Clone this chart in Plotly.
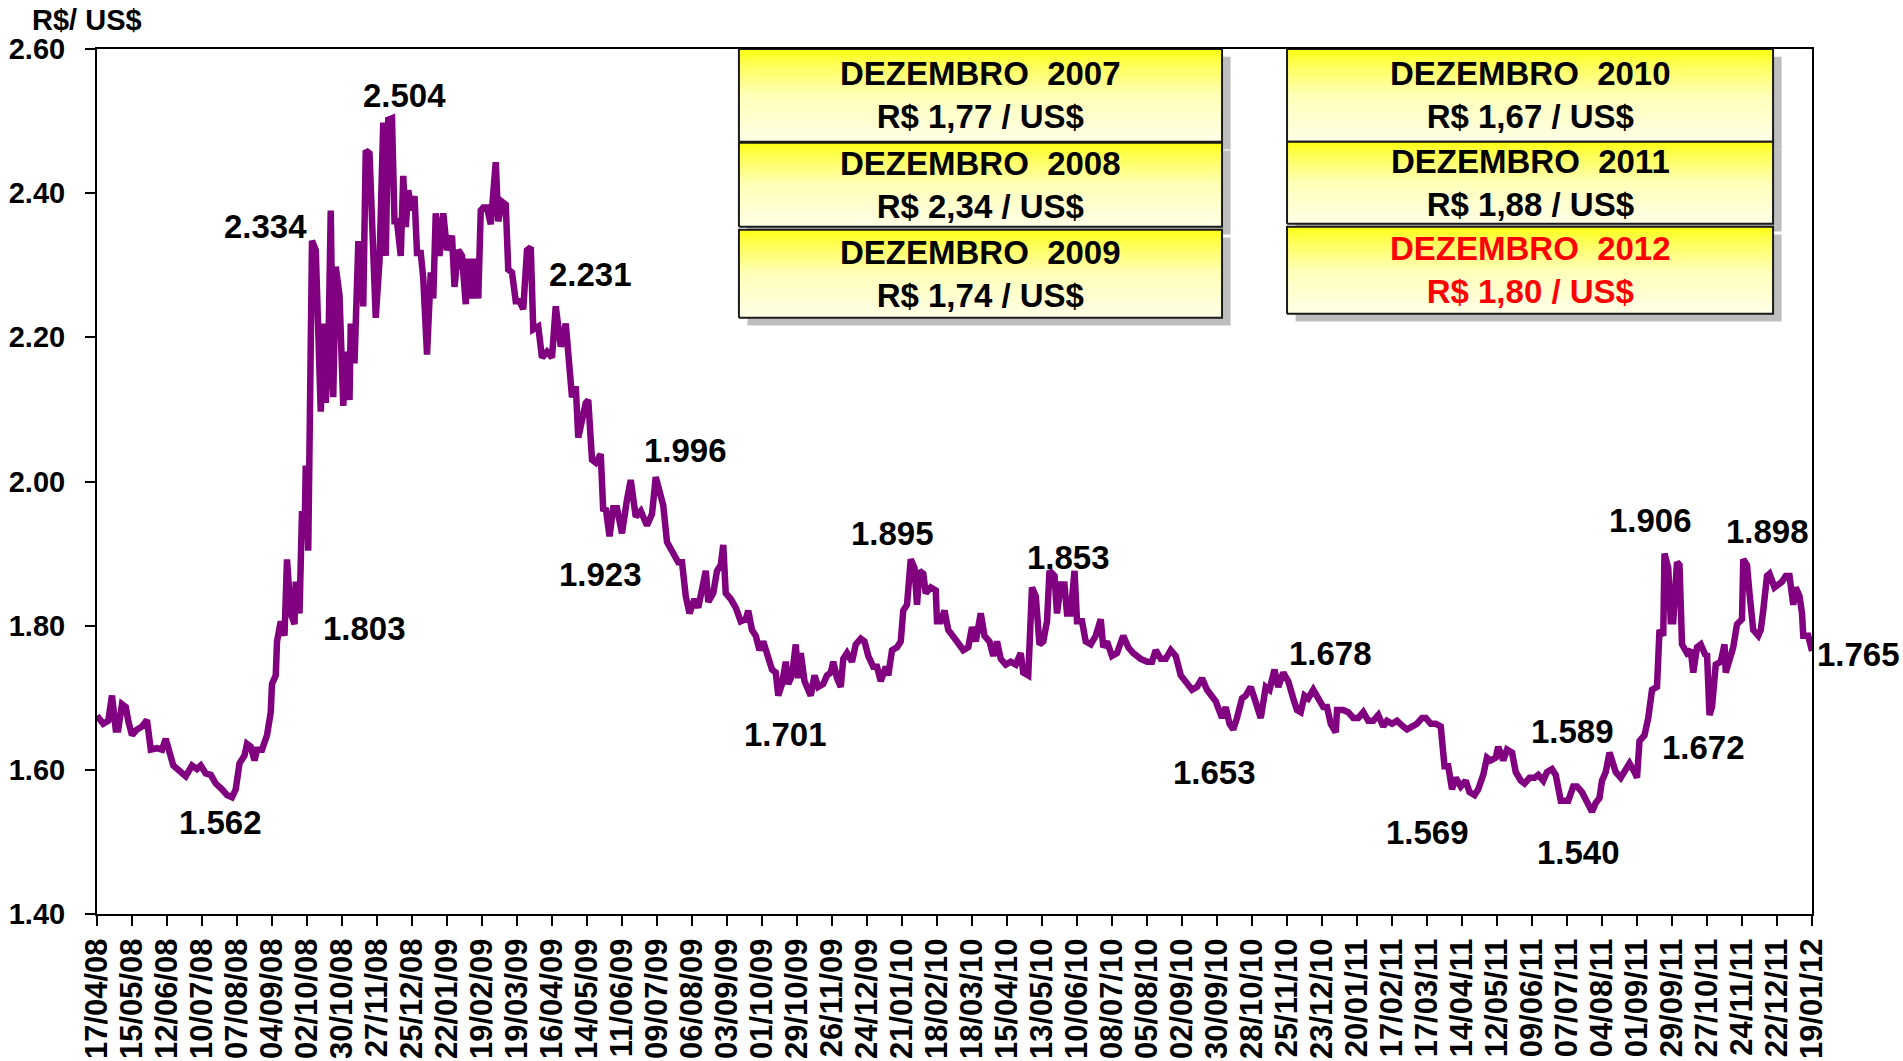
import pandas as pd
import plotly.graph_objects as go

# cotação diária R$/US$ (dias contados a partir de 17/04/08)
dias = [0, 5, 9, 12, 15, 17, 20, 23, 25, 28, 32, 36, 40, 43, 48, 52, 55, 58, 61, 67,
        71, 76, 80, 83, 87, 91, 95, 100, 104, 108, 111, 114, 118, 120, 123, 126, 128, 132, 136, 139,
        140, 143, 144, 147, 150, 152, 155, 158, 159, 162, 164, 166, 167, 169, 171, 172, 175, 177, 179, 182,
        183, 185, 187, 189, 191, 194, 197, 199, 202, 203, 206, 209, 211, 213, 215, 218, 221, 223, 226, 229,
        231, 233, 236, 238, 240, 243, 245, 247, 249, 252, 254, 256, 259, 261, 264, 267, 269, 271, 274, 277,
        280, 284, 286, 289, 292, 295, 297, 300, 302, 305, 307, 309, 312, 315, 319, 321, 324, 327, 329, 332,
        335, 338, 341, 344, 347, 349, 353, 356, 360, 364, 367, 371, 375, 377, 380, 383, 385, 388, 391, 393,
        396, 399, 403, 405, 407, 410, 413, 416, 420, 424, 427, 431, 435, 440, 444, 447, 453, 456, 461, 465,
        468, 471, 474, 478, 481, 484, 487, 489, 493, 496, 499, 501, 503, 507, 511, 515, 519, 521, 524, 527,
        530, 533, 537, 540, 543, 545, 548, 551, 553, 556, 559, 561, 563, 566, 568, 571, 574, 577, 581, 584,
        587, 589, 592, 595, 597, 600, 604, 607, 611, 614, 617, 621, 624, 627, 631, 633, 636, 640, 643, 645,
        648, 651, 654, 656, 658, 661, 663, 667, 671, 672, 675, 678, 681, 685, 688, 693, 697, 700, 703, 707,
        710, 714, 717, 720, 723, 727, 731, 735, 739, 741, 745, 748, 751, 754, 757, 760, 762, 766, 768, 771,
        774, 776, 779, 782, 784, 788, 791, 795, 799, 803, 805, 808, 812, 816, 821, 825, 829, 835, 840, 844,
        847, 851, 855, 859, 863, 867, 872, 876, 880, 884, 888, 891, 895, 900, 903, 906, 909, 912, 916, 919,
        923, 926, 931, 935, 938, 942, 945, 949, 953, 957, 960, 963, 966, 969, 973, 977, 981, 984, 987, 991,
        992, 997, 1001, 1005, 1009, 1013, 1017, 1021, 1025, 1029, 1032, 1036, 1040, 1045, 1048, 1052, 1056, 1060, 1063, 1067,
        1071, 1075, 1078, 1081, 1084, 1087, 1091, 1095, 1098, 1102, 1105, 1109, 1112, 1115, 1119, 1121, 1125, 1128, 1132, 1135,
        1139, 1142, 1146, 1150, 1153, 1157, 1160, 1164, 1167, 1171, 1173, 1177, 1181, 1184, 1188, 1192, 1196, 1199, 1202, 1204,
        1207, 1210, 1212, 1215, 1219, 1223, 1226, 1230, 1232, 1234, 1238, 1241, 1244, 1248, 1250, 1253, 1254, 1257, 1259, 1261,
        1264, 1266, 1268, 1272, 1275, 1277, 1280, 1283, 1287, 1288, 1290, 1292, 1295, 1299, 1302, 1303, 1306, 1309, 1312, 1316,
        1317, 1320, 1322, 1325, 1329, 1331, 1333, 1336, 1338, 1342, 1345, 1348, 1351, 1354, 1357, 1359, 1362, 1364, 1365, 1369,
        1372]
cotacao = [1.675, 1.664, 1.668, 1.703, 1.656, 1.656, 1.691, 1.687, 1.668, 1.648, 1.656, 1.660, 1.669, 1.628, 1.630, 1.628, 1.643, 1.624, 1.606, 1.597,
           1.591, 1.606, 1.601, 1.606, 1.595, 1.593, 1.581, 1.573, 1.565, 1.562, 1.573, 1.609, 1.620, 1.636, 1.632, 1.613, 1.628, 1.628, 1.648, 1.680,
           1.719, 1.731, 1.778, 1.806, 1.786, 1.892, 1.817, 1.802, 1.861, 1.817, 1.959, 1.920, 2.022, 1.904, 2.124, 2.334, 2.321, 2.172, 2.097, 2.219,
           2.109, 2.172, 2.376, 2.117, 2.298, 2.258, 2.105, 2.180, 2.113, 2.219, 2.164, 2.329, 2.329, 2.243, 2.459, 2.455, 2.313, 2.227, 2.306, 2.498,
           2.313, 2.502, 2.504, 2.361, 2.361, 2.313, 2.424, 2.353, 2.404, 2.376, 2.396, 2.317, 2.317, 2.282, 2.176, 2.290, 2.254, 2.372, 2.313, 2.372,
           2.321, 2.341, 2.270, 2.321, 2.313, 2.246, 2.309, 2.254, 2.309, 2.254, 2.376, 2.380, 2.380, 2.357, 2.443, 2.361, 2.388, 2.384, 2.294, 2.290,
           2.250, 2.250, 2.239, 2.321, 2.325, 2.211, 2.215, 2.172, 2.180, 2.172, 2.243, 2.187, 2.219, 2.183, 2.117, 2.132, 2.061, 2.085, 2.109, 2.113,
           2.030, 2.026, 2.038, 1.959, 1.963, 1.924, 1.963, 1.963, 1.928, 1.975, 2.002, 1.951, 1.959, 1.939, 1.955, 2.006, 1.967, 1.916, 1.900, 1.888,
           1.888, 1.841, 1.817, 1.837, 1.825, 1.853, 1.876, 1.833, 1.845, 1.876, 1.884, 1.912, 1.845, 1.837, 1.825, 1.806, 1.809, 1.821, 1.794, 1.786,
           1.766, 1.778, 1.758, 1.739, 1.735, 1.703, 1.719, 1.750, 1.719, 1.731, 1.774, 1.727, 1.762, 1.723, 1.715, 1.703, 1.731, 1.715, 1.719, 1.731,
           1.735, 1.750, 1.727, 1.715, 1.754, 1.762, 1.750, 1.774, 1.782, 1.778, 1.758, 1.743, 1.743, 1.723, 1.743, 1.731, 1.766, 1.770, 1.778, 1.821,
           1.829, 1.892, 1.880, 1.829, 1.876, 1.872, 1.845, 1.853, 1.849, 1.806, 1.806, 1.821, 1.794, 1.786, 1.778, 1.766, 1.770, 1.798, 1.778, 1.817,
           1.786, 1.778, 1.758, 1.778, 1.754, 1.746, 1.750, 1.746, 1.762, 1.735, 1.731, 1.853, 1.841, 1.774, 1.778, 1.806, 1.876, 1.869, 1.817, 1.857,
           1.857, 1.817, 1.817, 1.876, 1.806, 1.806, 1.778, 1.774, 1.786, 1.809, 1.770, 1.778, 1.758, 1.762, 1.786, 1.770, 1.762, 1.754, 1.750, 1.750,
           1.766, 1.754, 1.754, 1.766, 1.758, 1.731, 1.719, 1.711, 1.715, 1.727, 1.711, 1.703, 1.695, 1.672, 1.687, 1.664, 1.656, 1.672, 1.699, 1.703,
           1.715, 1.699, 1.672, 1.715, 1.711, 1.739, 1.715, 1.735, 1.723, 1.699, 1.683, 1.680, 1.703, 1.699, 1.711, 1.699, 1.687, 1.687, 1.664, 1.652,
           1.683, 1.683, 1.680, 1.672, 1.672, 1.680, 1.668, 1.668, 1.676, 1.660, 1.668, 1.664, 1.668, 1.660, 1.656, 1.660, 1.664, 1.672, 1.672, 1.664,
           1.664, 1.660, 1.605, 1.605, 1.573, 1.589, 1.577, 1.585, 1.569, 1.565, 1.573, 1.593, 1.617, 1.613, 1.617, 1.632, 1.613, 1.628, 1.624, 1.597,
           1.585, 1.581, 1.589, 1.589, 1.593, 1.585, 1.597, 1.601, 1.593, 1.557, 1.557, 1.557, 1.577, 1.577, 1.569, 1.554, 1.542, 1.554, 1.561, 1.585,
           1.597, 1.624, 1.613, 1.597, 1.589, 1.601, 1.609, 1.597, 1.589, 1.640, 1.648, 1.672, 1.711, 1.715, 1.794, 1.786, 1.900, 1.880, 1.806, 1.806,
           1.888, 1.884, 1.774, 1.762, 1.766, 1.735, 1.770, 1.774, 1.758, 1.762, 1.676, 1.687, 1.746, 1.750, 1.774, 1.735, 1.750, 1.770, 1.802, 1.809,
           1.892, 1.884, 1.845, 1.794, 1.786, 1.794, 1.821, 1.869, 1.872, 1.853, 1.857, 1.861, 1.869, 1.869, 1.829, 1.853, 1.841, 1.817, 1.786, 1.786,
           1.765]

# rótulos de máximos e mínimos (texto, dia e altura do rótulo)
rotulo_texto = ["2.504", "2.334", "1.803", "1.562", "2.231", "1.996", "1.923", "1.701", "1.895", "1.853",
                "1.653", "1.678", "1.569", "1.589", "1.540", "1.906", "1.672", "1.898", "1.765"]
rotulo_dia = [246, 135, 214, 99, 395, 471, 403, 551, 636, 777,
              894, 987, 1064, 1180, 1185, 1243, 1285, 1336, 1372]
rotulo_y = [2.535, 2.354, 1.796, 1.527, 2.287, 2.043, 1.871, 1.649, 1.928, 1.894,
            1.597, 1.761, 1.513, 1.653, 1.485, 1.946, 1.631, 1.930, 1.760]

# quadros com a cotação de dezembro de cada ano
quadro_ano = ["2007", "2008", "2009", "2010", "2011", "2012"]
quadro_valor = ["1,77", "2,34", "1,74", "1,67", "1,88", "1,80"]
quadro_cor = ["black", "black", "black", "black", "black", "#FF0000"]

inicio = pd.Timestamp("2008-04-17")
fim = pd.Timestamp("2012-01-19")
datas = inicio + pd.to_timedelta(dias, unit="D")
ticks = pd.date_range(inicio, fim, freq="28D")

FONTE = "Liberation Sans, Arial, sans-serif"

fig = go.Figure()

# linha da cotação
fig.add_trace(go.Scatter(
    x=datas, y=cotacao, mode="lines",
    line=dict(color="#800080", width=6.5),
    hoverinfo="x+y", showlegend=False,
))

# posição dos quadros (fração da área do gráfico)
cx = [(0.3743, 0.6560)] * 3 + [(0.6939, 0.9773)] * 3
cy = [(0.8928, 1.0), (0.7946, 0.8917), (0.6894, 0.7911),
      (0.8928, 1.0), (0.7980, 0.8928), (0.6940, 0.7946)]
dx, dy = 0.005, 0.009

for (x0, x1), (y0, y1) in zip(cx, cy):
    # sombra
    fig.add_trace(go.Scatter(
        x=[x0 + dx, x1 + dx, x1 + dx, x0 + dx, x0 + dx],
        y=[y0 - dy, y0 - dy, y1 - dy, y1 - dy, y0 - dy],
        mode="lines", fill="toself", fillcolor="rgba(110,110,110,0.45)",
        line=dict(width=0), xaxis="x2", yaxis="y2",
        hoverinfo="skip", showlegend=False,
    ))
for (x0, x1), (y0, y1) in zip(cx, cy):
    fig.add_trace(go.Scatter(
        x=[x0, x1, x1, x0, x0], y=[y0, y0, y1, y1, y0],
        mode="lines", fill="toself",
        fillgradient=dict(type="vertical",
                          colorscale=[[0, "#FFFFE8"], [0.5, "#FFFFB8"],
                                      [0.85, "#FFFF50"], [1, "#FFFF10"]]),
        line=dict(color="#1a1a1a", width=2), xaxis="x2", yaxis="y2",
        hoverinfo="skip", showlegend=False,
    ))

anotacoes = []
for (x0, x1), (y0, y1), ano, val, cor in zip(cx, cy, quadro_ano, quadro_valor, quadro_cor):
    anotacoes.append(dict(
        xref="x2", yref="y2", x=(x0 + x1) / 2, y=(y0 + y1) / 2,
        text="DEZEMBRO\u00a0\u00a0" + ano + "<br>R$ " + val + " / US$",
        showarrow=False, align="center",
        font=dict(family=FONTE, size=33, color=cor, weight="bold"),
    ))

for t, d, v in zip(rotulo_texto, rotulo_dia, rotulo_y):
    ancora = "left" if d >= dias[-1] else "center"
    anotacoes.append(dict(
        x=inicio + pd.Timedelta(days=d), y=v, text=t, showarrow=False,
        xanchor=ancora, xshift=3 if ancora == "left" else 0,
        font=dict(family=FONTE, size=33, color="black", weight="bold"),
    ))

# título do eixo y
anotacoes.append(dict(
    xref="paper", yref="paper", x=-0.0058, y=1.034, text="R$/ US$",
    showarrow=False, xanchor="center", yanchor="middle",
    font=dict(family=FONTE, size=29, color="black", weight="bold"),
))

fig.update_layout(
    width=1903, height=1061,
    margin=dict(l=97, r=91, t=49, b=147),
    plot_bgcolor="white", paper_bgcolor="white",
    font=dict(family=FONTE, size=28, color="black", weight="bold"),
    annotations=anotacoes,
    xaxis=dict(
        type="date", range=[inicio, fim], automargin=False,
        tickvals=ticks, tickformat="%d/%m/%y", tickangle=-90,
        ticks="outside", ticklen=10, tickwidth=2, tickcolor="black",
        showline=True, linewidth=2, linecolor="black", mirror=True,
        showgrid=False, zeroline=False,
        tickfont=dict(family=FONTE, size=31, color="black", weight="bold"),
    ),
    yaxis=dict(
        range=[1.40, 2.60], dtick=0.2, tick0=1.40, tickformat=".2f",
        automargin=False,
        ticks="outside", ticklen=10, tickwidth=2, tickcolor="black",
        showline=True, linewidth=2, linecolor="black", mirror=True,
        showgrid=False, zeroline=False, ticklabelstandoff=14,
        tickfont=dict(family=FONTE, size=29, color="black", weight="bold"),
    ),
    xaxis2=dict(overlaying="x", range=[0, 1], visible=False, fixedrange=True),
    yaxis2=dict(overlaying="y", range=[0, 1], visible=False, fixedrange=True),
)

fig.write_html("out.html", config={"displayModeBar": False},
               post_script="document.body.style.margin='0';")
